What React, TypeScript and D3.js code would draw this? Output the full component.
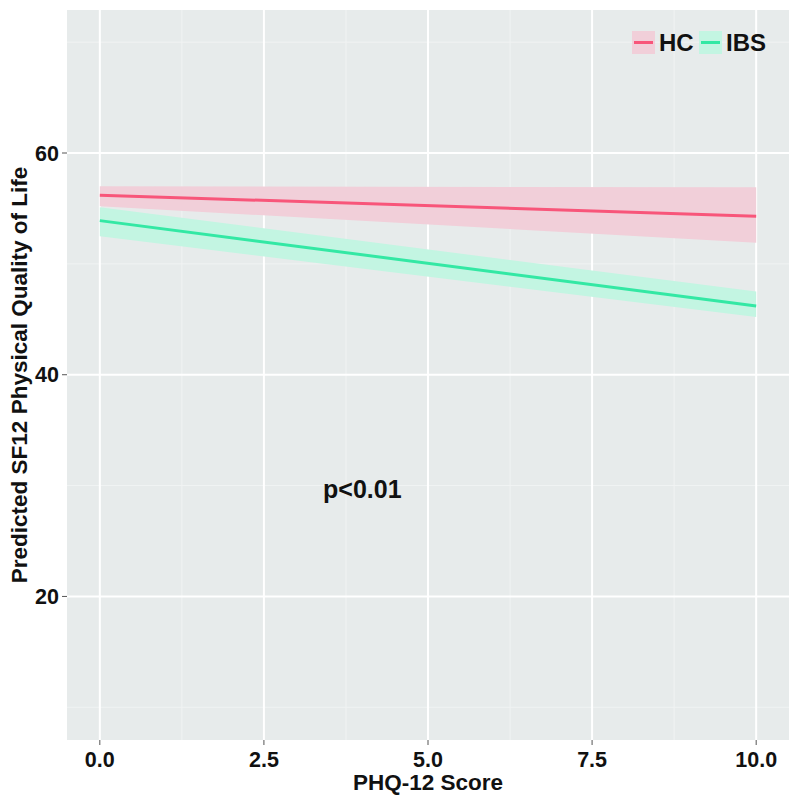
import React from "react";
import * as d3 from "d3";

const xValues = [0, 10];
const hcFit = [56.2, 54.3];
const hcLower = [55.2, 51.9];
const hcUpper = [57.0, 56.9];
const ibsFit = [53.9, 46.2];
const ibsLower = [52.5, 45.2];
const ibsUpper = [55.1, 47.5];
const xTicks = [0, 2.5, 5, 7.5, 10];
const xMinor = [1.25, 3.75, 6.25, 8.75];
const yTicks = [20, 40, 60];
const yMinor = [10, 30, 50, 70];
const groups = ["HC", "IBS"];

const FONT = "'Liberation Sans', Arial, Helvetica, sans-serif";

export default function App() {
  const W = 800, H = 800;
  const pl = 67, pr = 789, pt = 10, pb = 740;
  const x = d3.scaleLinear().domain([-0.5, 10.5]).range([pl, pr]);
  const y = d3.scaleLinear().domain([7.05, 72.9]).range([pb, pt]);

  const series = [
    { name: groups[0], fit: hcFit, lo: hcLower, hi: hcUpper, line: "#f8567a", fill: "#f1cfd9" },
    { name: groups[1], fit: ibsFit, lo: ibsLower, hi: ibsUpper, line: "#33e8a4", fill: "#c3f5e2" },
  ];

  const area = (lo: number[], hi: number[]) =>
    d3.area<number>().x((d, i) => x(xValues[i])).y0((d, i) => y(lo[i])).y1((d, i) => y(hi[i]))(lo.map((v) => v)) || "";
  const line = (v: number[]) =>
    d3.line<number>().x((d, i) => x(xValues[i])).y((d) => y(d))(v) || "";

  const legendX = [632, 699];
  const legendTextX = [659, 726];

  return (
    <svg width={W} height={H} style={{ position: "absolute", left: 0, top: 0, display: "block" }} fontFamily={FONT}>
      <rect x={0} y={0} width={W} height={H} fill="#ffffff" />
      <rect x={pl} y={pt} width={pr - pl} height={pb - pt} fill="#e7ebeb" />
      {xMinor.map((t) => (
        <line key={"xm" + t} x1={x(t)} x2={x(t)} y1={pt} y2={pb} stroke="#f1f3f3" strokeWidth={1} />
      ))}
      {yMinor.map((t) => (
        <line key={"ym" + t} x1={pl} x2={pr} y1={y(t)} y2={y(t)} stroke="#f1f3f3" strokeWidth={1} />
      ))}
      {xTicks.map((t) => (
        <line key={"xg" + t} x1={x(t)} x2={x(t)} y1={pt} y2={pb} stroke="#ffffff" strokeWidth={2} />
      ))}
      {yTicks.map((t) => (
        <line key={"yg" + t} x1={pl} x2={pr} y1={y(t)} y2={y(t)} stroke="#ffffff" strokeWidth={2} />
      ))}
      {series.map((s) => (
        <path key={"a" + s.name} d={area(s.lo, s.hi)} fill={s.fill} />
      ))}
      {series.map((s) => (
        <path key={"l" + s.name} d={line(s.fit)} fill="none" stroke={s.line} strokeWidth={3} />
      ))}
      {xTicks.map((t) => (
        <g key={"xt" + t}>
          <line x1={x(t)} x2={x(t)} y1={pb} y2={pb + 5} stroke="#555" strokeWidth={1} />
          <text x={x(t)} y={767} textAnchor="middle" fontSize={21.5} fontWeight="bold" fill="#111">
            {d3.format(".1f")(t)}
          </text>
        </g>
      ))}
      {yTicks.map((t) => (
        <g key={"yt" + t}>
          <line x1={pl - 5} x2={pl} y1={y(t)} y2={y(t)} stroke="#555" strokeWidth={1} />
          <text x={pl - 8} y={y(t)} dy="0.36em" textAnchor="end" fontSize={21.5} fontWeight="bold" fill="#111">
            {t}
          </text>
        </g>
      ))}
      <text x={428} y={790} textAnchor="middle" fontSize={22.5} fontWeight="bold" fill="#111">
        PHQ-12 Score
      </text>
      <text
        transform={`translate(27, ${(pt + pb) / 2}) rotate(-90)`}
        textAnchor="middle"
        fontSize={22.5}
        fontWeight="bold"
        fill="#111"
      >
        Predicted SF12 Physical Quality of Life
      </text>
      <text x={x(4)} y={498} textAnchor="middle" fontSize={25} fontWeight="bold" fill="#111">
        p&lt;0.01
      </text>
      {series.map((s, i) => (
        <g key={"lg" + s.name}>
          <rect x={legendX[i]} y={31} width={23} height={23} fill={s.fill} />
          <line x1={legendX[i] + 2} x2={legendX[i] + 21} y1={42.5} y2={42.5} stroke={s.line} strokeWidth={3} />
          <text x={legendTextX[i]} y={51} fontSize={24} fontWeight="bold" fill="#111">
            {s.name}
          </text>
        </g>
      ))}
    </svg>
  );
}
